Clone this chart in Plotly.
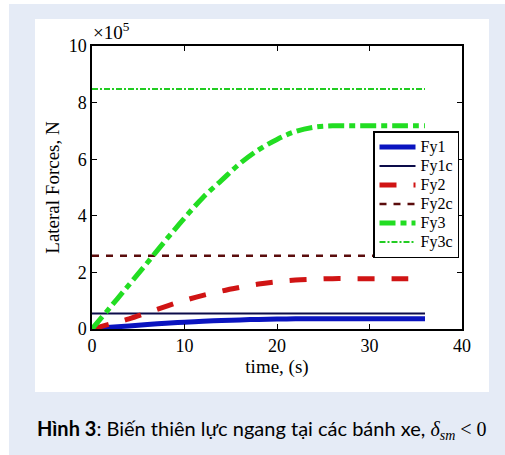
import plotly.graph_objects as go

# ---- data (values in units of 1e5 N) ----
t = [0, 2, 4, 6, 8, 10, 12, 14, 16, 18, 20, 22, 24, 26, 28, 30, 32, 34, 36]
fy1 = [0, 0.06, 0.11, 0.16, 0.20, 0.24, 0.27, 0.30, 0.32, 0.34, 0.35, 0.36, 0.36, 0.36, 0.36, 0.36, 0.36, 0.36, 0.36]
fy2 = [0, 0.18, 0.36, 0.58, 0.80, 1.01, 1.19, 1.34, 1.47, 1.59, 1.67, 1.73, 1.76, 1.78, 1.78, 1.78, 1.78, 1.78, 1.78]
fy3 = [0, 0.78, 1.56, 2.35, 3.15, 3.92, 4.65, 5.25, 5.85, 6.33, 6.70, 6.98, 7.13, 7.18, 7.18, 7.18, 7.18, 7.18, 7.18]
t_c = [0, 36]
fy1c = [0.55, 0.55]
fy2c = [2.59, 2.59]
fy3c = [8.48, 8.48]

series_names = ["Fy1", "Fy1c", "Fy2", "Fy2c", "Fy3", "Fy3c"]
x_ticks = [0, 10, 20, 30, 40]
y_ticks = [0, 2, 4, 6, 8, 10]

serif = "Liberation Serif"


def lname(s):
    return "<span style='font-size:16px'>" + s + "</span>"


fig = go.Figure()
fig.add_trace(go.Scatter(x=t, y=fy1, name=lname(series_names[0]), mode="lines", line_shape="spline",
                         line=dict(color="#0a14c0", width=5)))
fig.add_trace(go.Scatter(x=t_c, y=fy1c, name=lname(series_names[1]), mode="lines",
                         line=dict(color="#0c0c4a", width=2)))
fig.add_trace(go.Scatter(x=t, y=fy2, name=lname(series_names[2]), mode="lines", line_shape="spline",
                         line=dict(color="#d01414", width=5, dash="17px,17px")))
fig.add_trace(go.Scatter(x=t_c, y=fy2c, name=lname(series_names[3]), mode="lines",
                         line=dict(color="#5a0c0c", width=2.5, dash="7px,7px")))
fig.add_trace(go.Scatter(x=t, y=fy3, name=lname(series_names[4]), mode="lines", line_shape="spline",
                         line=dict(color="#22dd22", width=5, dash="16px,5px,6px,5px")))
fig.add_trace(go.Scatter(x=t_c, y=fy3c, name=lname(series_names[5]), mode="lines",
                         line=dict(color="#22cc22", width=2, dash="6px,2px,2px,2px")))

L, R, T, B = 92, 43, 46, 126
W, H = 505, 455
pw, ph = W - L - R, H - T - B


def px(x):
    return (x - L) / pw


def py(y):
    return (H - B - y) / ph


shapes = [
    dict(type="rect", xref="paper", yref="paper", x0=px(9), x1=px(506), y0=py(455), y1=py(4),
         fillcolor="#e5ebf6", line=dict(width=0), layer="below"),
    dict(type="rect", xref="paper", yref="paper", x0=px(35), x1=px(489), y0=py(392), y1=py(19),
         fillcolor="#ffffff", line=dict(width=0), layer="below"),
]

axis_common = dict(showgrid=False, zeroline=False, showline=True, linecolor="black", linewidth=1.5,
                   mirror="ticks", ticks="inside", ticklen=5, tickcolor="black", tickwidth=1,
                   tickfont=dict(family=serif, size=18, color="black"))

fig.update_layout(
    width=W, height=H,
    margin=dict(l=L, r=R, t=T, b=B, pad=0),
    paper_bgcolor="white", plot_bgcolor="white",
    shapes=shapes,
    showlegend=True,
    legend=dict(x=px(373), y=py(131), xanchor="left", yanchor="top",
                bgcolor="white", bordercolor="black", borderwidth=1.5,
                font=dict(family=serif, size=12, color="black"),
                tracegroupgap=0, itemwidth=36),
    xaxis=dict(range=[0, 40], tickvals=x_ticks, ticktext=[str(v) for v in x_ticks],
               title=dict(text="time, (s)", font=dict(family=serif, size=19, color="black"), standoff=2),
               **axis_common),
    yaxis=dict(range=[0, 10], tickvals=y_ticks, ticktext=[str(v) for v in y_ticks],
               title=dict(text="Lateral Forces, N", font=dict(family=serif, size=19, color="black"), standoff=4),
               **axis_common),
    annotations=[
        dict(xref="paper", yref="paper", x=px(91), y=py(45), xanchor="left", yanchor="bottom",
             text="×10<sup>5</sup>", showarrow=False,
             font=dict(family=serif, size=19, color="black")),
        dict(xref="paper", yref="paper", x=px(262), y=py(430), xanchor="center", yanchor="middle",
             text="<b>Hình 3</b>: Biến thiên lực ngang tại các bánh xe, "
                  "<span style='font-family:Liberation Serif'><i>δ<sub>sm</sub></i> &lt; 0</span>",
             showarrow=False, font=dict(family="Lato", size=20, color="black")),
    ],
)

fig.write_html("out.html")
